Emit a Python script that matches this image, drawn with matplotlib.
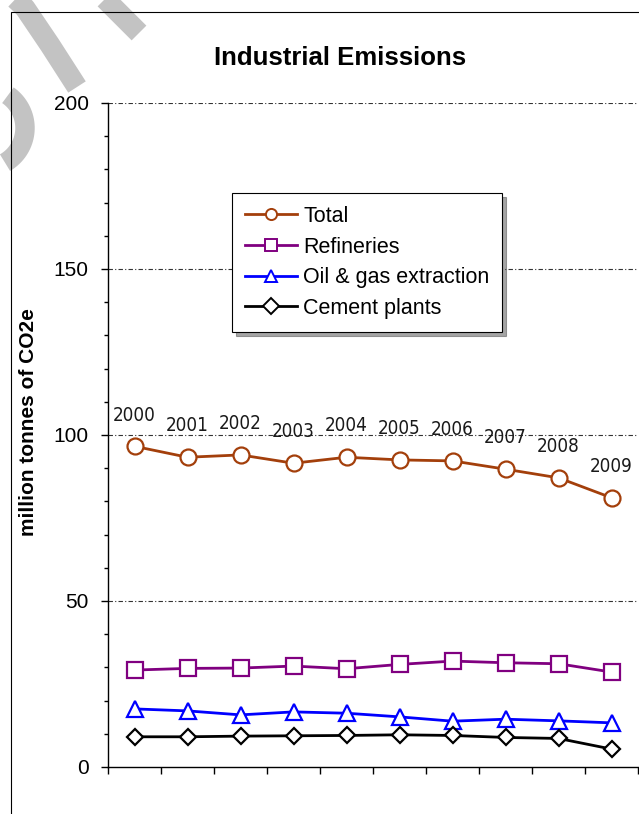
import numpy as np
import matplotlib
matplotlib.use("Agg")
import matplotlib.pyplot as plt
from matplotlib.patches import Rectangle

plt.rcParams["font.family"] = ["Liberation Sans", "DejaVu Sans"]

years = [2000, 2001, 2002, 2003, 2004, 2005, 2006, 2007, 2008, 2009]
total = [96.6, 93.3, 94.0, 91.5, 93.3, 92.5, 92.2, 89.7, 87.1, 81.1]
refineries = [29.2, 29.7, 29.8, 30.4, 29.6, 30.9, 31.9, 31.4, 31.1, 28.6]
oil_gas = [17.5, 16.9, 15.7, 16.6, 16.2, 15.1, 13.8, 14.4, 13.9, 13.3]
cement = [9.1, 9.1, 9.3, 9.4, 9.5, 9.7, 9.5, 8.9, 8.6, 5.4]

series = [
    ("Total", total, "#A33F0B", "o", 11.5),
    ("Refineries", refineries, "#800080", "s", 11),
    ("Oil & gas extraction", oil_gas, "#0000FF", "^", 12),
    ("Cement plants", cement, "#000000", "D", 7.8),
]

W, H = 639, 814
fig = plt.figure(figsize=(W / 100, H / 100), dpi=100)

# grey stamp strokes behind the chart
wm = fig.add_axes([0, 0, 1, 1], zorder=-1)
wm.set_xlim(0, W)
wm.set_ylim(H, 0)
wm.axis("off")
grey = "#C3C3C3"
wm.plot([89, 139], [-17, 33], color=grey, lw=15, solid_capstyle="butt")
wm.plot([6, 25, 50, 77], [-10, 8, 45, 87], color=grey, lw=15, solid_capstyle="butt")
th = np.radians(np.linspace(-55, 60, 40))
wm.plot(-15 + 40 * np.cos(th), 128 + 40 * np.sin(th), color=grey, lw=14, solid_capstyle="butt")

# outer chart frame
fig.add_artist(Rectangle((11 / W, -0.2), 1.5, 1.2 - 12 / H, transform=fig.transFigure,
                         fill=False, edgecolor="black", lw=0.8))

ax = fig.add_axes([108 / W, (H - 767) / H, (638 - 108) / W, (767 - 103) / H])
ax.set_facecolor("none")

x = np.arange(len(years)) + 0.5
for name, vals, color, marker, ms in series:
    ax.plot(x, vals, color=color, lw=2, marker=marker, ms=ms, mfc="white",
            mec=color, mew=1.6, label=name, zorder=3)

# year labels above the total line
for xi, yr, v in zip(x, years, total):
    ax.annotate(str(yr), (xi, v), xytext=(0, 22.5), textcoords="offset points",
                ha="center", va="center", fontsize=13.5, color="#1a1a1a",
                family="DejaVu Sans", fontstretch="condensed", zorder=4)

ax.set_xlim(0, 10)
ax.set_ylim(0, 200)
ax.set_xticks(np.arange(0, 11))
ax.set_xticklabels([])
ax.set_yticks([0, 50, 100, 150, 200])
ax.set_yticks(np.arange(0, 201, 10), minor=True)
ax.tick_params(axis="y", which="major", length=5, width=1, pad=9, labelsize=15)
ax.tick_params(axis="y", which="minor", length=3, width=1)
ax.tick_params(axis="x", which="major", length=5, width=1)
for s in ("top", "right"):
    ax.spines[s].set_visible(False)
for s in ("left", "bottom"):
    ax.spines[s].set_linewidth(1)

for g in (50, 100, 150, 200):
    ax.axhline(g, color="#333333", lw=0.8, ls=(0, (4, 2, 1, 2)), zorder=1)

ax.set_ylabel("million tonnes of CO2e", fontsize=15, fontweight="bold")
ax.yaxis.set_label_coords((38 - 108) / 530, (767 - 422) / 664)

fig.text(340 / W, 1 - 58 / H, "Industrial Emissions", ha="center", va="center",
         fontsize=18.5, fontweight="bold")

handles = [plt.Line2D([], [], color=c, lw=2, marker=m, ms=8, mfc="white", mec=c, mew=1.4)
           for _, _, c, m, _ in series]
leg = ax.legend(handles, [s[0] for s in series], loc="upper left",
                bbox_to_anchor=(232 / W, 1 - 193 / H), bbox_transform=fig.transFigure,
                borderaxespad=0, fontsize=15.5, frameon=True, fancybox=False,
                shadow={"ox": 3, "oy": -3, "alpha": 0.5},
                handlelength=2.4, handletextpad=0.3, borderpad=0.6, labelspacing=0.45)
leg.get_frame().set_edgecolor("black")
leg.get_frame().set_linewidth(0.8)
leg.set_zorder(5)

fig.savefig("out.png", dpi=100)
